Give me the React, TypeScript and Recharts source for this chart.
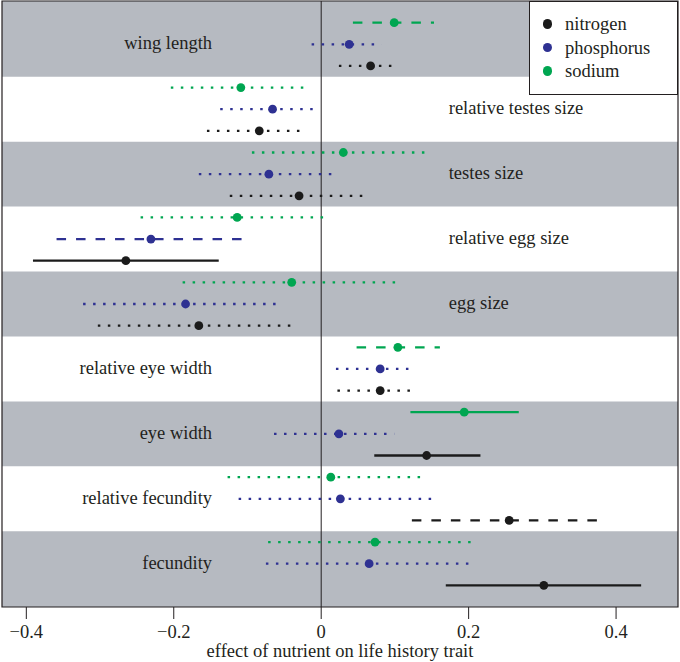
import React from 'react';
import { ComposedChart, Scatter, XAxis, YAxis, ReferenceArea, ReferenceLine, Legend } from 'recharts';

const traits = [
  'wing length',
  'relative testes size',
  'testes size',
  'relative egg size',
  'egg size',
  'relative eye width',
  'eye width',
  'relative fecundity',
  'fecundity',
];

// row order inside each trait band, top to bottom
const nutrients = ['sodium', 'phosphorus', 'nitrogen'];
const legendOrder = ['nitrogen', 'phosphorus', 'sodium'];

// sig: 'sig' = solid, 'marg' = dashed, 'ns' = dotted
const sodiumEst = [0.099, -0.109, 0.030, -0.114, -0.040, 0.104, 0.194, 0.013, 0.073];
const sodiumLo = [0.043, -0.204, -0.094, -0.245, -0.188, 0.048, 0.121, -0.127, -0.072];
const sodiumHi = [0.153, -0.017, 0.147, 0.009, 0.106, 0.161, 0.268, 0.142, 0.209];
const sodiumSig = ['marg', 'ns', 'ns', 'ns', 'ns', 'marg', 'sig', 'ns', 'ns'];

const phosphorusEst = [0.038, -0.066, -0.071, -0.231, -0.184, 0.080, 0.024, 0.026, 0.065];
const phosphorusLo = [-0.013, -0.137, -0.166, -0.359, -0.323, 0.020, -0.064, -0.112, -0.075];
const phosphorusHi = [0.082, -0.003, 0.021, -0.107, -0.056, 0.127, 0.099, 0.155, 0.205];
const phosphorusSig = ['ns', 'ns', 'ns', 'marg', 'ns', 'ns', 'ns', 'ns', 'ns'];

const nitrogenEst = [0.067, -0.084, -0.030, -0.265, -0.166, 0.080, 0.143, 0.255, 0.302];
const nitrogenLo = [0.024, -0.155, -0.124, -0.391, -0.303, 0.022, 0.072, 0.123, 0.169];
const nitrogenHi = [0.105, -0.021, 0.064, -0.139, -0.037, 0.129, 0.216, 0.374, 0.434];
const nitrogenSig = ['ns', 'ns', 'ns', 'sig', 'ns', 'ns', 'sig', 'marg', 'sig'];

const xTicks = [-0.4, -0.2, 0, 0.2, 0.4];

const seriesData: Record<string, { est: number[]; lo: number[]; hi: number[]; sig: string[] }> = {
  sodium: { est: sodiumEst, lo: sodiumLo, hi: sodiumHi, sig: sodiumSig },
  phosphorus: { est: phosphorusEst, lo: phosphorusLo, hi: phosphorusHi, sig: phosphorusSig },
  nitrogen: { est: nitrogenEst, lo: nitrogenLo, hi: nitrogenHi, sig: nitrogenSig },
};

const colors: Record<string, string> = {
  nitrogen: '#1b1b1b',
  phosphorus: '#2e3192',
  sodium: '#00a651',
};

const dashFor: Record<string, string | undefined> = {
  sig: undefined,
  marg: '9.5 10',
  ns: '2.5 7.5',
};

const INK = '#231f20';
const BAND = '#b6bac1';
const FONT = '"Liberation Serif", "Times New Roman", serif';
const X_DOMAIN: [number, number] = [-0.433, 0.484];
const Y_MAX = 28;

// labels sit on the empty side of each band
const rightLabels = ['relative testes size', 'testes size', 'relative egg size', 'egg size'];

const rowOf = (t: number, n: number) => 3 * t + n + 1;

const labelData = traits.map((name, t) => ({
  x: rightLabels.includes(name) ? 0.173 : -0.148,
  y: rowOf(t, 1),
  name,
  right: rightLabels.includes(name),
}));

const LegendBox = () => (
  <div
    style={{
      position: 'relative',
      width: 149,
      height: 94,
      boxSizing: 'border-box',
      border: `1px solid ${INK}`,
      background: 'white',
      fontFamily: FONT,
      fontSize: 18.5,
      color: INK,
    }}
  >
    {legendOrder.map((n, i) => (
      <div
        key={n}
        style={{ position: 'absolute', left: 0, top: 22 + i * 23.5 - 12, height: 24, display: 'flex', alignItems: 'center' }}
      >
        <span
          style={{
            display: 'inline-block',
            width: 9.5,
            height: 9.5,
            borderRadius: '50%',
            background: colors[n],
            marginLeft: 12.5,
            marginRight: 13,
          }}
        />
        <span style={{ lineHeight: '24px' }}>{n}</span>
      </div>
    ))}
  </div>
);

export default function App() {
  return (
    <div style={{ position: 'absolute', left: 0, top: 0, width: 680, height: 662, background: 'white' }}>
      <ComposedChart width={680} height={662} margin={{ top: 1, right: 2, left: 2, bottom: 0 }}>
        <XAxis
          type="number"
          dataKey="x"
          domain={X_DOMAIN}
          allowDataOverflow
          ticks={xTicks}
          height={55}
          axisLine={false}
          tickSize={12}
          tickMargin={6}
          tickLine={{ stroke: INK, strokeWidth: 1 }}
          tick={{ fill: INK, fontSize: 18.5, fontFamily: FONT }}
          tickFormatter={(v: number) => String(v).replace('-', '\u2212')}
          label={{
            value: 'effect of nutrient on life history trait',
            position: 'insideBottom',
            offset: 5,
            fill: INK,
            fontSize: 18.5,
            fontFamily: FONT,
          }}
        />
        <YAxis type="number" dataKey="y" domain={[0, Y_MAX]} reversed hide allowDataOverflow />

        {traits.map((name, t) =>
          t % 2 === 0 ? (
            <ReferenceArea
              key={name}
              x1={X_DOMAIN[0]}
              x2={X_DOMAIN[1]}
              y1={t === 0 ? 0 : 3 * t + 0.5}
              y2={t === traits.length - 1 ? Y_MAX : 3 * t + 3.5}
              fill={BAND}
              fillOpacity={1}
              stroke="none"
            />
          ) : null
        )}
        <ReferenceLine x={0} stroke={INK} strokeWidth={1} />
        <ReferenceArea
          x1={X_DOMAIN[0]}
          x2={X_DOMAIN[1]}
          y1={0}
          y2={Y_MAX}
          fill="none"
          stroke={INK}
          strokeWidth={1.2}
        />

        {nutrients.map((n, ni) =>
          traits.map((name, t) => {
            const d = seriesData[n];
            const y = rowOf(t, ni);
            return (
              <Scatter
                key={`${n}-${name}`}
                data={[
                  { x: d.lo[t], y },
                  { x: d.hi[t], y },
                ]}
                line={{
                  stroke: colors[n],
                  strokeWidth: 2.3,
                  strokeDasharray: dashFor[d.sig[t]],
                  strokeLinecap: 'butt',
                }}
                shape={() => <g />}
                isAnimationActive={false}
              />
            );
          })
        )}

        {nutrients.map((n, ni) => (
          <Scatter
            key={`pt-${n}`}
            name={n}
            data={traits.map((_, t) => ({ x: seriesData[n].est[t], y: rowOf(t, ni) }))}
            shape={(p: any) => <circle cx={p.cx} cy={p.cy} r={4.4} fill={colors[n]} />}
            isAnimationActive={false}
          />
        ))}

        <Scatter
          data={labelData}
          shape={(p: any) => (
            <text
              x={p.cx}
              y={p.cy + 5}
              textAnchor={p.payload.right ? 'start' : 'end'}
              fill={INK}
              fontSize={18.5}
              fontFamily={FONT}
            >
              {p.payload.name}
            </text>
          )}
          isAnimationActive={false}
        />

        <Legend
          layout="horizontal"
          verticalAlign="middle"
          align="center"
          content={() => <LegendBox />}
          wrapperStyle={{ left: 529, top: 1, width: 149, height: 94 }}
        />
      </ComposedChart>
    </div>
  );
}
